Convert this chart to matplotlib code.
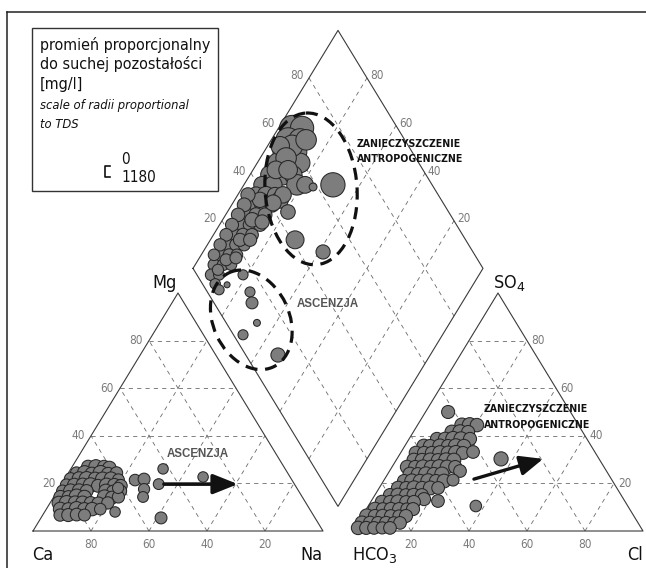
import matplotlib
matplotlib.use("Agg")
import matplotlib.pyplot as plt
from matplotlib.patches import Ellipse, Rectangle
from matplotlib import font_manager
import numpy as np

# ---------------- data (percent of meq) ----------------
# cation triangle: Mg %, Na+K %, TDS mg/l
CAT_MG = [27, 27, 27, 26.5,
          24.4, 24.4, 24, 24.4, 24, 24.4,
          21.8, 22, 21.8, 22, 21.8, 22, 21.5,
          19.3, 19.3, 19.5, 19.3, 19, 19.3, 19.3, 19,
          16.8, 16.8, 17, 16.8, 16.8, 16.5, 16.8,
          14.3, 14.3, 14.5, 14.3, 14.3, 14, 14.3,
          11.8, 11.8, 12, 11.8, 11.8, 11.5, 11.8,
          9.2, 9.2, 9.4, 9.2, 9.2, 9.2,
          6.7, 6.7, 6.9, 6.7,
          8.0, 18.1, 21.4, 21.8, 17.6, 14.3, 19.7, 26.1, 5.5, 22.7]
CAT_NA = [5.5, 8.2, 11.0, 13.1,
          2.8, 5.6, 8.3, 11.1, 13.9, 16.6,
          2.1, 4.9, 7.6, 10.4, 13.1, 15.9, 18.7,
          1.9, 4.6, 7.4, 10.2, 12.9, 15.7, 18.4, 20.8,
          1.8, 4.6, 7.4, 10.1, 16.7, 19.4, 21.8,
          2.3, 5.1, 7.8, 10.6, 17.5, 20.2, 22.3,
          3.0, 5.7, 8.5, 11.2, 14.0, 16.8, 19.9,
          4.8, 7.6, 10.3, 13.1, 15.8, 18.6,
          6.0, 8.8, 11.6, 14.4,
          24.3, 20.3, 24.5, 27.4, 29.5, 30.8, 33.5, 31.8, 41.4, 47.3]
CAT_TDS = [700, 760, 690, 720,
           650, 780, 720, 800, 700, 660,
           690, 740, 810, 700, 760, 720, 640,
           660, 730, 700, 780, 690, 750, 710, 680,
           640, 760, 720, 690, 740, 700, 650,
           700, 680, 800, 720, 760, 690, 650,
           720, 790, 700, 740, 680, 710, 660,
           740, 690, 760, 700, 720, 620,
           660, 700, 680, 640,
           560, 600, 620, 640, 600, 580, 580, 560, 640, 560]

# anion triangle: SO4 %, Cl %, TDS mg/l
AN_SO4 = [44.5, 44.5, 44.5,
          41.6, 41.6, 41.6,
          38.7, 38.7, 38.7, 38.7, 38.7,
          35.7, 35.7, 35.7, 35.7, 35.7, 35.7,
          32.8, 32.8, 32.8, 32.8, 32.8, 32.8, 32.8,
          29.8, 29.8, 29.8, 29.8, 29.8, 29.8,
          26.9, 26.9, 26.9, 26.9, 26.9, 26.9, 26.9,
          23.9, 23.9, 23.9, 23.9, 23.9,
          21.0, 21.0, 21.0, 21.0, 21.0, 21.0,
          18.1, 18.1, 18.1, 18.1, 18.1, 18.1,
          15.1, 15.1, 15.1, 15.1, 15.1, 13.4,
          12.2, 12.2, 12.2, 12.2, 12.2,
          9.2, 9.2, 9.2, 9.2, 9.2, 9.2,
          6.3, 6.3, 6.3, 6.3, 6.3, 6.3,
          3.4, 3.4, 3.4, 3.4, 3.4, 3.4,
          1.3, 1.3, 1.3, 1.3, 1.3,
          50.0, 30.3, 10.5, 12.6, 25.2, 21.4, 33.2]
AN_CL = [15.3, 18.0, 20.5,
         13.3, 16.1, 18.9,
         9.6, 12.4, 15.2, 17.9, 21.0,
         6.6, 8.7, 12.1, 14.9, 17.6, 20.4,
         5.3, 8.1, 10.8, 13.6, 16.4, 19.1, 21.5,
         6.1, 8.9, 11.7, 14.4, 17.2, 19.9,
         5.2, 8.0, 10.7, 13.5, 16.3, 19.0, 21.8,
         7.7, 10.4, 13.2, 15.9, 18.7,
         7.1, 9.8, 12.6, 15.4, 18.1, 20.9,
         6.5, 9.3, 12.0, 14.8, 17.6, 20.3,
         5.2, 7.9, 10.7, 13.4, 16.2, 17.8,
         3.9, 6.7, 9.4, 12.2, 14.9,
         3.0, 5.7, 8.5, 11.3, 14.0, 16.1,
         1.6, 4.4, 7.1, 9.9, 12.7, 15.1,
         1.4, 4.2, 6.9, 9.7, 12.4, 14.5,
         1.1, 3.9, 6.6, 9.4, 12.1,
         7.8, 35.9, 37.1, 23.0, 24.3, 23.8, 24.8]
AN_TDS = [760, 800, 720,
          740, 780, 700,
          700, 720, 800, 760, 700,
          740, 700, 760, 700, 780, 720,
          720, 700, 700, 780, 740, 800, 690,
          740, 720, 760, 700, 780, 740,
          720, 700, 760, 720, 790, 740, 700,
          740, 700, 780, 720, 760,
          700, 760, 720, 780, 700, 740,
          720, 690, 760, 700, 740, 680,
          700, 740, 680, 720, 690, 700,
          720, 700, 760, 680, 700,
          740, 690, 720, 700, 660, 700,
          760, 700, 720, 680, 650, 700,
          740, 720, 690, 700, 660, 680,
          720, 700, 680, 650, 680,
          700, 760, 620, 680, 680, 640, 680]

# diamond: Na+K %, SO4+Cl %, TDS mg/l
DIA_NA = [4.7, 8.1, 5.8, 9.9, 7.0, 11.1, 7.2, 11.3, 14.8, 6.9, 11.1, 14.9,
          6.3, 10.1, 18.3, 21.1, 6.3, 9.7, 12.8, 7.0, 10.5, 13.9,
          7.0, 10.5, 13.6, 7.1, 10.5, 14.0, 7.1, 10.2, 13.3, 6.8, 9.9, 12.7,
          6.5, 9.6, 12.3, 6.5, 9.6, 12.4, 7.6, 10.3, 10.9,
          8.4, 4.3, 8.9, 7.9, 12.1, 8.7, 15.6, 10.2, 10.2, 9.6, 8.9,
          15.6, 14.1, 13.7, 12.6, 12.0,
          3.5, 4.3, 4.3, 4.3, 4.4, 4.4, 4.4,
          20.9, 29.2, 41.4, 30.7, 24.3, 13.9,
          18.6, 15.2, 24.6, 27.6, 33.5, 31.2, 47.5, 13.5]
DIA_S = [63.7, 67.1, 59.8, 63.9, 55.9, 60.0, 51.5, 55.6, 59.1, 46.2, 50.4, 54.2,
         41.4, 45.2, 53.4, 56.2, 37.2, 40.6, 43.7, 33.7, 37.2, 40.6,
         29.5, 33.0, 36.1, 25.4, 28.8, 32.3, 21.2, 24.3, 27.4, 16.7, 19.8, 22.6,
         12.2, 15.3, 18.0, 8.0, 11.1, 13.9, 4.9, 7.6, 4.4,
         59.9, 55.8, 55.3, 49.3, 53.5, 37.5, 44.4, 30.6, 22.2, 13.2, 8.3,
         46.5, 33.6, 25.7, 17.0, 66.0,
         34.4, 31.0, 26.8, 22.6, 18.5, 14.3, 10.1,
         44.6, 41.2, 48.3, 65.8, 58.5, 41.4,
         15.9, 8.3, 14.7, 13.1, 10.6, 3.3, 11.1, 4.5]
DIA_TDS = [1350, 1250, 1300, 1200, 1200, 1150, 1100, 1250, 1050, 1000, 1100, 950,
           900, 950, 1100, 900, 850, 900, 800, 850, 800, 780,
           800, 760, 740, 760, 720, 700, 720, 700, 680, 700, 680, 650,
           680, 650, 620, 640, 620, 600, 620, 580, 560,
           1150, 1000, 1100, 950, 1000, 820, 900, 780, 700, 640, 600,
           880, 760, 700, 640, 1100,
           760, 740, 720, 700, 680, 660, 620,
           780, 960, 760, 1300, 420, 860,
           540, 320, 540, 640, 370, 540, 760, 540]

GRID = [20, 40, 60, 80]
TDS_LEG = 1180

# ---------------- geometry ----------------
X0L, W, YB, H, GAP = 33.0, 290.0, 531.0, 238.0, 30.0
X0R = X0L + W + GAP
GAP_PCT = GAP / W * 100
R_LEG = 11.0   # px radius for TDS_LEG
DPI = 100


def cat_xy(mg, na):
    mg = np.asarray(mg, float); na = np.asarray(na, float)
    return X0L + W * (na + mg / 2) / 100, YB - H * mg / 100


def an_xy(so4, cl):
    so4 = np.asarray(so4, float); cl = np.asarray(cl, float)
    return X0R + W * (cl + so4 / 2) / 100, YB - H * so4 / 100


def dia_xy(na, s):
    na = np.asarray(na, float); s = np.asarray(s, float)
    t = s - na + 100 + GAP_PCT
    return X0L + W * na / 100 + W / 2 * t / 100, YB - H * t / 100


def sizes(tds):
    r = R_LEG * np.asarray(tds, float) / TDS_LEG
    return (2 * r * 72 / DPI) ** 2


names = {f.name for f in font_manager.fontManager.ttflist}
if "Liberation Sans Narrow" in names:
    NARROW = dict(family="Liberation Sans Narrow")
else:
    NARROW = dict(family="DejaVu Sans", stretch="condensed")

fig = plt.figure(figsize=(6.46, 5.68), dpi=DPI)
ax = fig.add_axes([0, 0, 1, 1])
ax.set_xlim(0, 646)
ax.set_ylim(568, 0)
ax.axis("off")

OUT = "#3a3a3a"
GRC = "#6a6a6a"
TKC = "#7a7a7a"
grid_kw = dict(color=GRC, lw=0.6, ls=(0, (5, 5)), zorder=1)

# frame
ax.plot([7, 646], [12, 12], color="#222", lw=1.1, zorder=0)
ax.plot([7, 7], [12, 568], color="#222", lw=1.1, zorder=0)

# triangles
for fn in (cat_xy, an_xy):
    xs, ys = fn([0, 0, 100, 0], [0, 100, 0, 0])
    ax.plot(xs, ys, color=OUT, lw=0.8, zorder=2)
    for k in GRID:
        x, y = fn([k, k], [0, 100 - k]); ax.plot(x, y, **grid_kw)
        x, y = fn([0, 100 - k], [k, k]); ax.plot(x, y, **grid_kw)
        x, y = fn([0, 100 - k], [100 - k, 0]); ax.plot(x, y, **grid_kw)

# diamond
xs, ys = dia_xy([0, 0, 100, 100, 0], [0, 100, 100, 0, 0])
ax.plot(xs, ys, color=OUT, lw=0.8, zorder=2)
for k in GRID:
    x, y = dia_xy([k, k], [0, 100]); ax.plot(x, y, **grid_kw)
    x, y = dia_xy([0, 100], [k, k]); ax.plot(x, y, **grid_kw)

# tick labels
tk = dict(color=TKC, fontsize=8.5, va="center", **NARROW)
for k in GRID:
    x, y = cat_xy(k, 0); ax.text(x - 6, y, str(k), ha="right", **tk)
    x, y = cat_xy(0, k); ax.text(x, y + 13, str(100 - k), ha="center", **tk)
    x, y = an_xy(k, 100 - k); ax.text(x + 4, y, str(k), ha="left", **tk)
    x, y = an_xy(0, k); ax.text(x, y + 13, str(k), ha="center", **tk)
    x, y = dia_xy(0, k); ax.text(x - 5, y - 2, str(k), ha="right", **tk)
    x, y = dia_xy(k, 100); ax.text(x + 3, y - 2, str(100 - k), ha="left", **tk)

# axis names
nm = dict(color="#111", fontsize=13, va="baseline", **NARROW)
ax.text(32, 560, "Ca", ha="left", **nm)
ax.text(323, 560, "Na", ha="right", **nm)
ax.text(177, 288, "Mg", ha="right", **nm)
ax.text(352, 560, "HCO$_3$", ha="left", **nm)
ax.text(643, 560, "Cl", ha="right", **nm)
ax.text(493, 288, "SO$_4$", ha="left", **nm)

# points
pt = dict(c="#7d7d7d", edgecolors="#262626", linewidths=0.75, zorder=4)
x, y = cat_xy(CAT_MG, CAT_NA); ax.scatter(x, y, s=sizes(CAT_TDS), **pt)
x, y = an_xy(AN_SO4, AN_CL); ax.scatter(x, y, s=sizes(AN_TDS), **pt)
x, y = dia_xy(DIA_NA, DIA_S); ax.scatter(x, y, s=sizes(DIA_TDS), **pt)

# dashed ellipses
ell_kw = dict(fill=False, ec="#111", lw=2.3, ls=(0, (3.8, 2.4)), zorder=5)
cx, cy = dia_xy(24.0, 57.4)
ax.add_patch(Ellipse((cx, cy), 92, 152, angle=-4, **ell_kw))
cx, cy = dia_xy(30.9, 9.3)
ax.add_patch(Ellipse((cx, cy), 76, 104, angle=-25, **ell_kw))

# annotation texts
bold = dict(fontsize=7.6, fontweight="bold", color="#111", va="center", ha="left", **NARROW)
ax.text(357, 144, "ZANIECZYSZCZENIE", zorder=6, **bold)
ax.text(357, 159, "ANTROPOGENICZNE", zorder=6, **bold)
ax.text(484, 409.5, "ZANIECZYSZCZENIE", zorder=6, **bold)
ax.text(484, 424.5, "ANTROPOGENICZNE", zorder=6, **bold)
asc = dict(fontsize=8.3, fontweight="bold", color="#555", va="center", ha="left",
           family="Liberation Sans", zorder=6)
ax.text(297, 304, "ASCENZJA", **asc)
ax.text(167, 454, "ASCENZJA", **asc)

# arrows (ternary coordinates)
a0 = cat_xy(19.7, 35.3); a1 = cat_xy(19.7, 60.8)
ax.annotate("", xy=a1, xytext=a0, zorder=6,
            arrowprops=dict(arrowstyle="-|>,head_length=0.75,head_width=0.3",
                            lw=2.6, color="#111", mutation_scale=20,
                            shrinkA=0, shrinkB=0))
b0 = an_xy(21.8, 30.8); b1 = an_xy(30.3, 50.4)
ax.annotate("", xy=b1, xytext=b0, zorder=6,
            arrowprops=dict(arrowstyle="-|>,head_length=0.7,head_width=0.3",
                            lw=2.4, color="#111", mutation_scale=20,
                            shrinkA=0, shrinkB=0))

# legend box
ax.add_patch(Rectangle((32, 28), 186, 163, fill=False, ec="#333", lw=1.0, zorder=6))
lg = dict(color="#111", ha="left", va="center", **NARROW)
ax.text(40, 45, "promień proporcjonalny", fontsize=11.5, **lg)
ax.text(40, 64, "do suchej pozostałości", fontsize=11.5, **lg)
ax.text(40, 84, "[mg/l]", fontsize=11.5, **lg)
ax.text(40, 106, "scale of radii proportional", fontsize=9.3, style="italic", **lg)
ax.text(40, 124, "to TDS", fontsize=9.3, style="italic", **lg)
ax.plot([110, 105, 105, 110], [166, 166, 166 + R_LEG, 166 + R_LEG], color="#111", lw=1.2)
ax.text(121, 160, "0", fontsize=11, **lg)
ax.text(121, 178, str(TDS_LEG), fontsize=11, **lg)

fig.savefig("out.png", dpi=DPI)
